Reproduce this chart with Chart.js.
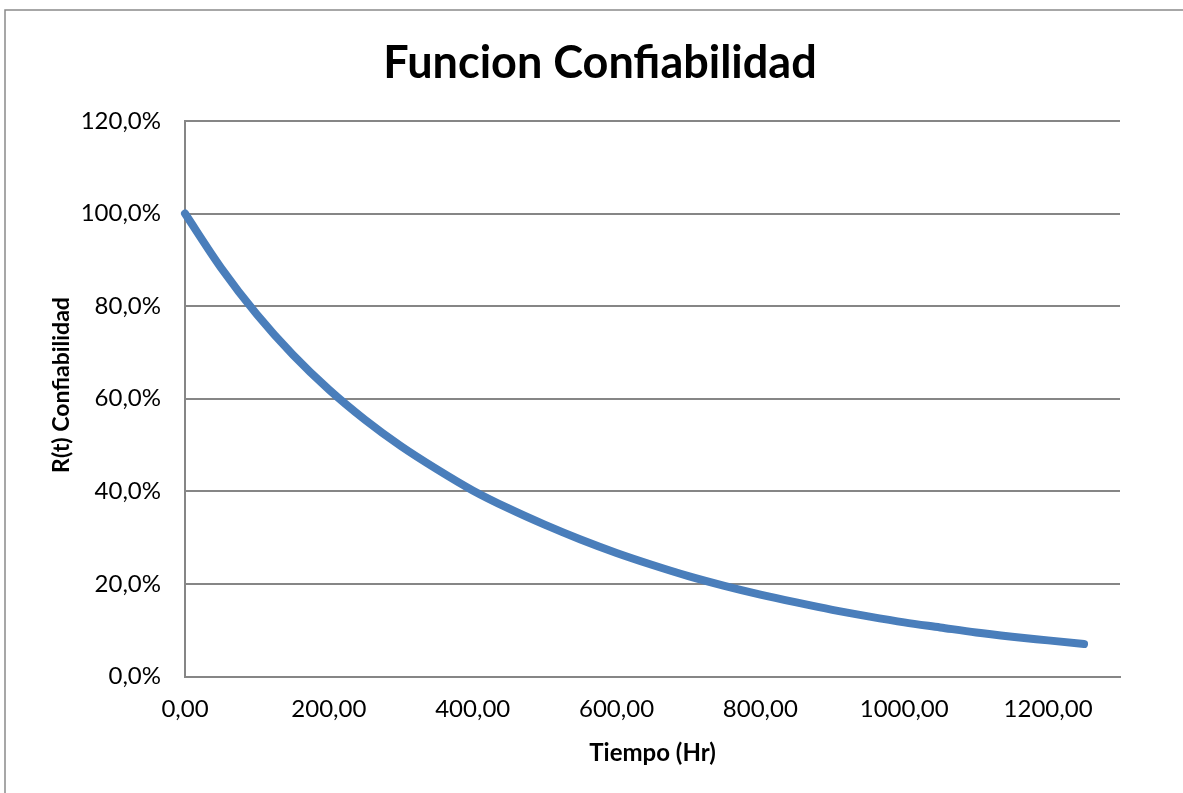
<!DOCTYPE html>
<html>
<head>
<meta charset="utf-8">
<title>Funcion Confiabilidad</title>
<script src="https://cdn.jsdelivr.net/npm/chart.js@4.4.0/dist/chart.umd.min.js"></script>
<style>
  html, body { margin: 0; padding: 0; background: #fff; }
  #wrap { width: 1183px; height: 793px; }
</style>
</head>
<body>
<div id="wrap"><canvas id="confChart" width="1183" height="793"></canvas></div>
<script>
// tiempo en horas (eje x)
const horas = [0, 50, 100, 150, 200, 250, 300, 350, 400, 450, 500, 550, 600,
  650, 700, 750, 800, 850, 900, 950, 1000, 1050, 1100, 1150, 1200, 1250];
// R(t) en %
const confiabilidad = [100, 88.3, 78.2, 69.5, 62.0, 55.5, 49.8, 44.8, 40.2, 36.3,
  32.8, 29.6, 26.7, 24.1, 21.7, 19.6, 17.7, 16.0, 14.4, 13.0, 11.7, 10.6, 9.5, 8.6, 7.8, 7.0];
const yMax = 120;
const yStep = 20;
const xMax = 1300;
const xStep = 200;

const FONT = 'Lato, "Open Sans", sans-serif';

// borde exterior del area del grafico (solo arriba e izquierda se ven)
const outerBorder = {
  id: 'outerBorder',
  beforeDraw(chart) {
    const ctx = chart.ctx;
    ctx.save();
    ctx.fillStyle = '#fff';
    ctx.fillRect(0, 0, chart.width, chart.height);
    ctx.strokeStyle = '#8a8a8a';
    ctx.lineWidth = 1.5;
    ctx.beginPath();
    ctx.moveTo(5, chart.height);
    ctx.lineTo(5, 10);
    ctx.lineTo(chart.width, 10);
    ctx.stroke();
    ctx.restore();
  }
};

// titulo del eje y (va un poco por encima del centro, como en excel)
const yTitle = {
  id: 'yTitle',
  afterDraw(chart) {
    const ctx = chart.ctx;
    ctx.save();
    ctx.translate(62, 385);
    ctx.rotate(-Math.PI / 2);
    ctx.font = 'bold 23px ' + FONT;
    ctx.fillStyle = '#000';
    ctx.textAlign = 'center';
    ctx.textBaseline = 'middle';
    ctx.fillText('R(t) Confiabilidad', 0, 0);
    ctx.restore();
  }
};

const ctx = document.getElementById('confChart');
const confChart = new Chart(ctx, {
  type: 'line',
  data: {
    datasets: [{
      data: horas.map((h, i) => ({ x: h, y: confiabilidad[i] })),
      borderColor: '#4a7ebb',
      borderWidth: 8,
      borderCapStyle: 'round',
      borderJoinStyle: 'round',
      pointRadius: 0,
      cubicInterpolationMode: 'monotone',
      clip: false
    }]
  },
  options: {
    responsive: false,
    animation: false,
    // padding izquierdo para que el titulo quede centrado como en el original
    layout: { padding: { left: 80, right: 63, top: 0, bottom: 0 } },
    plugins: {
      legend: { display: false },
      tooltip: { enabled: false },
      title: {
        display: true,
        text: 'Funcion Confiabilidad',
        color: '#000',
        font: { family: FONT, size: 45, weight: 'bold' },
        padding: { top: 36, bottom: 31 }
      }
    },
    scales: {
      x: {
        type: 'linear',
        min: 0,
        max: xMax,
        afterFit: s => { s.height = 793 - 676.5; },
        grid: { display: false, drawTicks: false },
        border: { display: true, color: '#868686', width: 2 },
        ticks: {
          stepSize: xStep,
          includeBounds: false,
          autoSkip: false,
          maxRotation: 0,
          padding: 18,
          color: '#000',
          font: { family: FONT, size: 24 },
          callback: v => (v % xStep === 0 ? v.toFixed(2).replace('.', ',') : null)
        },
        title: {
          display: true,
          text: 'Tiempo (Hr)',
          color: '#000',
          font: { family: FONT, size: 24, weight: 'bold' },
          padding: { top: 0, bottom: 25 }
        }
      },
      y: {
        min: 0,
        max: yMax,
        afterFit: s => { s.width = 105; },
        grid: { color: '#868686', lineWidth: 2, drawTicks: false },
        border: { display: true, color: '#868686', width: 2 },
        ticks: {
          stepSize: yStep,
          padding: 24,
          color: '#000',
          font: { family: FONT, size: 24 },
          callback: v => v.toFixed(1).replace('.', ',') + '%'
        }
      }
    }
  },
  plugins: [outerBorder, yTitle]
});
</script>
</body>
</html>
